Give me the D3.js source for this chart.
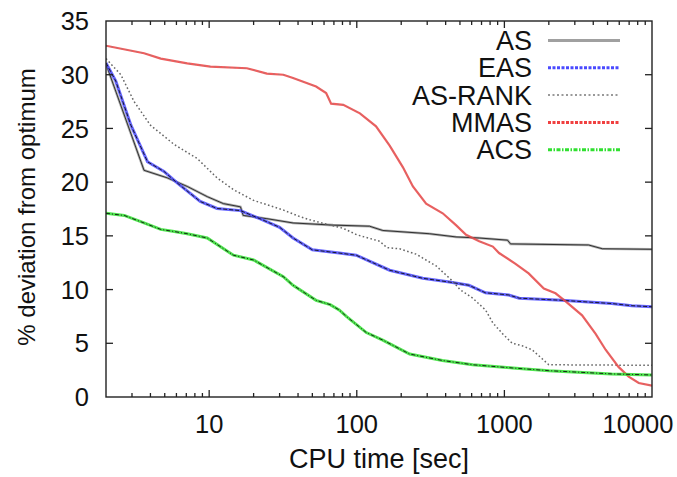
<!DOCTYPE html>
<html>
<head>
<meta charset="utf-8">
<script src="https://cdn.jsdelivr.net/npm/d3@7"></script>
<style>
  body { margin: 0; background: #fff; }
  svg { display: block; font-family: "Liberation Sans", Arial, Helvetica, sans-serif; }
</style>
</head>
<body>
<svg id="chart" width="677" height="477"></svg>
<script>
// CPU time (sec) and % deviation for each algorithm
const asTime = [2, 3.62, 5.2, 7.1, 9.7, 12.5, 16.3, 17, 24.6, 37, 69, 122, 150, 310, 470, 675, 1050, 1100, 3720, 4600, 10000];
const asDev  = [31.0, 21.1, 20.4, 19.6, 18.65, 18.0, 17.7, 16.9, 16.6, 16.2, 16.0, 15.9, 15.5, 15.2, 14.9, 14.8, 14.6, 14.25, 14.15, 13.8, 13.75];

const easTime = [2, 2.33, 2.95, 3.82, 4.94, 6.1, 8.7, 11.3, 16.3, 22, 30, 37, 50, 76, 99, 167, 280, 424, 575, 745, 1070, 1260, 2450, 5330, 7300, 10000];
const easDev  = [31.1, 29.4, 25.3, 21.9, 21.0, 19.9, 18.2, 17.55, 17.35, 16.6, 15.8, 14.8, 13.7, 13.4, 13.2, 11.8, 11.05, 10.7, 10.4, 9.7, 9.5, 9.2, 9.0, 8.7, 8.5, 8.4];

const rankTime = [2, 2.52, 3.1, 4.0, 5.8, 8.3, 11.3, 14.6, 20, 31.8, 41, 48, 66, 81, 100, 143, 160, 195, 252, 345, 445, 500, 610, 745, 835, 970, 1130, 1300, 1540, 2000, 10000];
const rankDev  = [31.5, 30.0, 27.5, 25.3, 23.5, 22.2, 20.4, 19.3, 18.3, 17.4, 16.8, 16.5, 16.0, 15.7, 15.1, 14.5, 13.9, 13.8, 13.3, 12.2, 10.8, 10.0, 9.2, 8.1, 6.9, 5.9, 5.0, 4.8, 4.4, 3.0, 2.95];

const mmasTime = [2, 3.62, 4.7, 7.1, 10.2, 18, 24.6, 31.8, 37, 53, 62, 67, 81, 105, 135, 167, 205, 240, 295, 382, 470, 550, 675, 835, 920, 1190, 1460, 1850, 2220, 2600, 3360, 4140, 4850, 5930, 6950, 8130, 10000];
const mmasDev  = [32.7, 32.0, 31.5, 31.05, 30.75, 30.6, 30.1, 30.0, 29.7, 28.9, 28.3, 27.3, 27.2, 26.4, 25.2, 23.4, 21.4, 19.6, 18.0, 17.1, 16.0, 15.1, 14.5, 14.0, 13.4, 12.4, 11.5, 10.1, 9.65, 8.9, 7.6, 5.9, 4.4, 2.8, 1.9, 1.3, 1.05];

const acsTime = [2, 2.66, 3.62, 4.7, 5.8, 7.1, 9.7, 14.6, 20, 31.8, 37, 53, 66, 76, 85, 116, 150, 228, 380, 610, 1140, 2000, 5330, 10000];
const acsDev  = [17.1, 16.9, 16.2, 15.6, 15.4, 15.2, 14.8, 13.2, 12.75, 11.2, 10.4, 9.0, 8.6, 8.1, 7.5, 6.0, 5.3, 4.0, 3.4, 3.0, 2.7, 2.45, 2.15, 2.05];

const seriesNames = ["AS", "EAS", "AS-RANK", "MMAS", "ACS"];
const xTickValues = [10, 100, 1000, 10000];
const yTickValues = [0, 5, 10, 15, 20, 25, 30, 35];

// line looks: a coloured stroke with a thin dark stroke drawn over it
const looks = {
  "AS":      { color: "#a0a0a0", width: 2.6, over: "#222", overWidth: 0.9, overDash: null,        key: null },
  "EAS":     { color: "#4a4aff", width: 3,   over: "#111", overWidth: 0.9, overDash: "4,2",       key: "3,1.5" },
  "AS-RANK": { color: "#666",    width: 1.5, over: null,   overWidth: 0,   overDash: null,        key: "2,2.5", dash: "1.6,2.4" },
  "MMAS":    { color: "#f04040", width: 2.2, over: "#888", overWidth: 0.6, overDash: "2,3",       key: "3,1.5" },
  "ACS":     { color: "#30e030", width: 3,   over: "#111", overWidth: 0.9, overDash: "4,2,1,2",   key: "4,1.5,1.5,1.5" }
};

const series = [
  { name: "AS", t: asTime, v: asDev },
  { name: "EAS", t: easTime, v: easDev },
  { name: "AS-RANK", t: rankTime, v: rankDev },
  { name: "MMAS", t: mmasTime, v: mmasDev },
  { name: "ACS", t: acsTime, v: acsDev }
];

const svg = d3.select("#chart");
const plotLeft = 106, plotRight = 652, plotTop = 21, plotBottom = 397;

const x = d3.scaleLog().domain([2, 10000]).range([plotLeft, plotRight]);
const y = d3.scaleLinear().domain([0, 35]).range([plotBottom, plotTop]);

svg.append("defs").append("clipPath").attr("id", "plotclip")
  .append("rect").attr("x", plotLeft).attr("y", plotTop)
  .attr("width", plotRight - plotLeft).attr("height", plotBottom - plotTop);

const line = d3.line()
  .x(d => x(d[0]))
  .y(d => y(d[1]));

const plot = svg.append("g").attr("clip-path", "url(#plotclip)");

series.forEach(s => {
  const pts = s.t.map((t, i) => [t, s.v[i]]);
  const lk = looks[s.name];
  plot.append("path")
    .attr("d", line(pts))
    .attr("fill", "none")
    .attr("stroke", lk.color)
    .attr("stroke-width", lk.width)
    .attr("stroke-dasharray", lk.dash || null)
    .attr("stroke-opacity", lk.over ? 0.85 : 1);
  if (lk.over) {
    plot.append("path")
      .attr("d", line(pts))
      .attr("fill", "none")
      .attr("stroke", lk.over)
      .attr("stroke-width", lk.overWidth)
      .attr("stroke-dasharray", lk.overDash);
  }
});

// minor ticks for the log axis
const minor = [];
[1, 10, 100, 1000].forEach(dec => {
  for (let k = 2; k <= 9; k++) {
    const val = dec * k;
    if (val > 2 && val < 10000 && !xTickValues.includes(val)) minor.push(val);
  }
});

const axes = svg.append("g").attr("stroke", "#222").attr("stroke-width", 1.3);

// bottom and top ticks, pointing inward
const xMajor = xTickValues.filter(v => v < 10000);
[plotBottom, plotTop].forEach(edge => {
  const dir = edge === plotBottom ? -1 : 1;
  axes.selectAll(null).data(xMajor).enter().append("line")
    .attr("x1", d => x(d)).attr("x2", d => x(d))
    .attr("y1", edge).attr("y2", edge + dir * 7);
  axes.selectAll(null).data(minor).enter().append("line")
    .attr("x1", d => x(d)).attr("x2", d => x(d))
    .attr("y1", edge).attr("y2", edge + dir * 4);
});

// left and right ticks
const yInner = yTickValues.filter(v => v > 0 && v < 35);
[plotLeft, plotRight].forEach(edge => {
  const dir = edge === plotLeft ? 1 : -1;
  axes.selectAll(null).data(yInner).enter().append("line")
    .attr("x1", edge).attr("x2", edge + dir * 7)
    .attr("y1", d => y(d)).attr("y2", d => y(d));
});

// frame
svg.append("rect")
  .attr("x", plotLeft).attr("y", plotTop)
  .attr("width", plotRight - plotLeft).attr("height", plotBottom - plotTop)
  .attr("fill", "none").attr("stroke", "#222").attr("stroke-width", 1.4);

// tick labels
svg.append("g").selectAll("text").data(yTickValues).enter().append("text")
  .attr("x", 89).attr("y", d => y(d)).attr("dy", "0.36em")
  .attr("text-anchor", "end").attr("font-size", 25.5).attr("fill", "#111")
  .text(d => d);

svg.append("g").selectAll("text").data(xTickValues).enter().append("text")
  .attr("x", d => x(d) - (d === 10000 ? 14 : 0)).attr("y", 433)
  .attr("text-anchor", "middle").attr("font-size", 25.5).attr("fill", "#111")
  .text(d => d);

// axis titles
svg.append("text")
  .attr("x", (plotLeft + plotRight) / 2).attr("y", 468)
  .attr("text-anchor", "middle").attr("font-size", 27).attr("fill", "#111")
  .text("CPU time [sec]");

svg.append("text")
  .attr("transform", "translate(35,207) rotate(-90)")
  .attr("text-anchor", "middle").attr("font-size", 24).attr("fill", "#111")
  .text("% deviation from optimum");

// legend
const legend = svg.append("g");
seriesNames.forEach((name, i) => {
  const ly = 40.5 + i * 27.3;
  const lk = looks[name];
  legend.append("text")
    .attr("x", 532).attr("y", ly + 9.5)
    .attr("text-anchor", "end").attr("font-size", 27).attr("fill", "#111")
    .text(name);
  legend.append("line")
    .attr("x1", 548).attr("x2", 620).attr("y1", ly).attr("y2", ly)
    .attr("stroke", name === "AS-RANK" ? "#999" : lk.color)
    .attr("stroke-width", name === "AS-RANK" ? 2 : 3)
    .attr("stroke-dasharray", lk.key);
});
</script>
</body>
</html>
